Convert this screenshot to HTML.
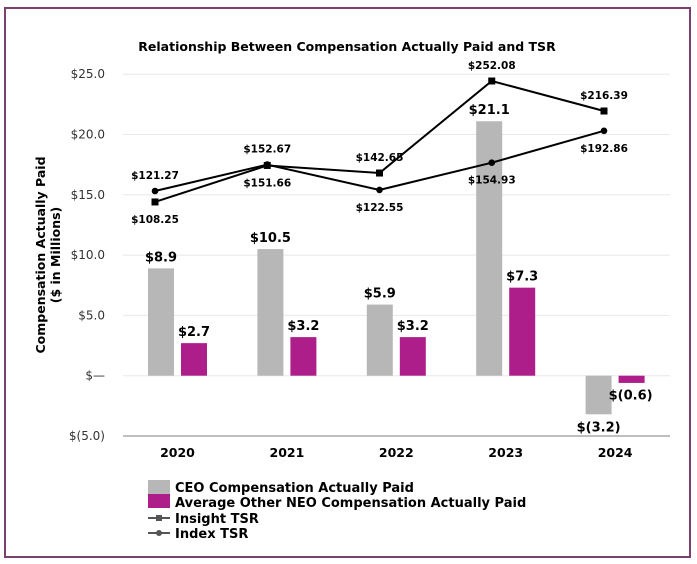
<!DOCTYPE html>
<html><head><meta charset="utf-8"><style>
body{margin:0;background:#fff;}
svg{display:block;font-family:"DejaVu Sans","Liberation Sans",sans-serif;}
</style></head><body>
<svg id="chart" width="697" height="564" viewBox="0 0 697 564">
<rect x="5" y="8" width="685" height="549" fill="#fff" stroke="#7b3f70" stroke-width="2"/>
<text x="347" y="51" text-anchor="middle" font-size="12.5" font-weight="bold">Relationship Between Compensation Actually Paid and TSR</text>
<text transform="translate(45,255) rotate(-90)" text-anchor="middle" font-size="12.5" font-weight="bold"><tspan x="0" dy="0">Compensation Actually Paid</tspan><tspan x="0" dy="15">($ in Millions)</tspan></text>
<g id="grid"></g><g id="bars"></g><g id="lines"></g>
<g font-size="13" font-weight="bold">
<rect x="148" y="480" width="22" height="14" fill="#b7b7b7"/>
<text x="175" y="492">CEO Compensation Actually Paid</text>
<rect x="148" y="494" width="22" height="14" fill="#ae1e8a"/>
<text x="175" y="507">Average Other NEO Compensation Actually Paid</text>
<line x1="148" y1="518" x2="170" y2="518" stroke="#555" stroke-width="2"/>
<rect x="156" y="515" width="6" height="6" fill="#555"/>
<text x="175" y="523">Insight TSR</text>
<line x1="148" y1="533" x2="170" y2="533" stroke="#555" stroke-width="2"/>
<circle cx="159" cy="533" r="3" fill="#555"/>
<text x="175" y="538">Index TSR</text>
</g>
</svg>
<script>
const years=["2020","2021","2022","2023","2024"];
const ceo=[8.9,10.5,5.9,21.1,-3.2];
const neo=[2.7,3.2,3.2,7.3,-0.6];
const insight=[108.25,151.66,142.65,252.08,216.39];
const index=[121.27,152.67,122.55,154.93,192.86];
const yTicks=[25,20,15,10,5,0,-5];
const yTickLabels=["$25.0","$20.0","$15.0","$10.0","$5.0","$—","$(5.0)"];
const ceoLabels=["$8.9","$10.5","$5.9","$21.1","$(3.2)"];
const neoLabels=["$2.7","$3.2","$3.2","$7.3","$(0.6)"];

const NS="http://www.w3.org/2000/svg";
function y(v){return 375.7-v*12.06;}
function yT(v){return 293-v*0.841;}
function xBar(i){return 148+i*109.4;}
function xPt(i){return 155+i*112.25;}
function mk(tag,attrs,parent,txt){const e=document.createElementNS(NS,tag);for(const k in attrs)e.setAttribute(k,attrs[k]);if(txt!=null)e.textContent=txt;parent.appendChild(e);return e;}
const grid=document.getElementById('grid'),bars=document.getElementById('bars'),lines=document.getElementById('lines');
yTicks.forEach((t,i)=>{
  const l=mk('line',{x1:123,x2:670,y1:y(t),y2:y(t),stroke:t===-5?'#aaa':'#e8e8e8','stroke-width':t===-5?1.5:1},grid);
  
  
  const tx=mk('text',{x:105,y:y(t)+4,'text-anchor':'end','font-size':12,fill:'#333'},grid,yTickLabels[i]);
  
  
});
years.forEach((yr,i)=>{
  const tx=mk('text',{x:xBar(i)+29.5,y:457,'text-anchor':'middle','font-size':12.5,'font-weight':'bold'},grid,yr);
  
  
  [[ceo,'#b7b7b7',0,ceoLabels],[neo,'#ae1e8a',33,neoLabels]].forEach(([arr,c,off,labs])=>{
    const v=arr[i],x=xBar(i)+off;
    const r=mk('rect',{x:x,y:Math.min(y(v),y(0)),width:26,height:Math.abs(y(v)-y(0)),fill:c},bars);
    
    
    let ly=v>=0?y(v)-7:y(v)+17;
    let lx=x+13;
    if(v<0&&off){lx=x+12;ly=y(0)+24;}
    const t=mk('text',{x:lx,y:ly,'text-anchor':'middle','font-size':13,'font-weight':'bold'},bars,labs[i]);
    
    
  });
});
[[insight,'square'],[index,'circle']].forEach(([arr,m],s)=>{
  const other=s?insight:index;
  const p=mk('polyline',{points:arr.map((v,i)=>xPt(i)+','+yT(v)).join(' '),fill:'none',stroke:'#000','stroke-width':2},lines);
  
  
  arr.forEach((v,i)=>{
    let e;
    if(m==='square')e=mk('rect',{x:xPt(i)-3.5,y:yT(v)-3.5,width:7,height:7,fill:'#000'},lines);
    else e=mk('circle',{cx:xPt(i),cy:yT(v),r:3.3,fill:'#000'},lines);
    
    
    const above=v>=other[i];
    const t=mk('text',{x:xPt(i),y:above?yT(v)-12:yT(v)+21,'text-anchor':'middle','font-size':10.5,'font-weight':'bold'},lines,'$'+v.toFixed(2));
    
    
  });
});
</script>
</body></html>
